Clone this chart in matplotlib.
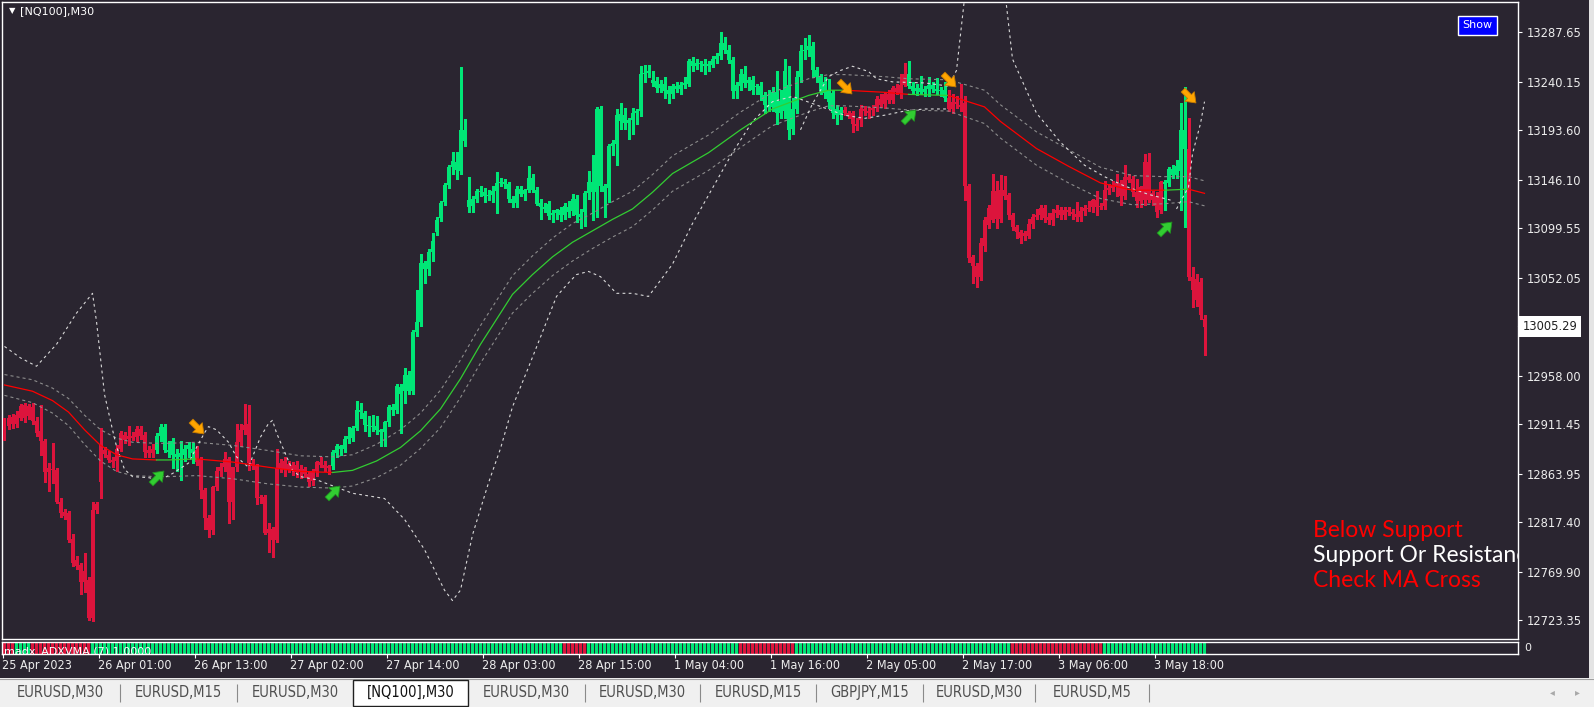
import numpy as np
import matplotlib
matplotlib.use("Agg")
import matplotlib.pyplot as plt
import matplotlib.transforms as mtrans
from matplotlib.path import Path
from matplotlib.patches import Rectangle
from matplotlib import font_manager

# ---------------------------------------------------------------- data
symbol_title = "[NQ100],M30"
indicator_label = "madx_ADXVMA (7) 1.0000"

opens = [
 12913,12910,12912,12912,12917,12917,12929,12928,12914,12905,
 12895,12869,12868,12867,12837,12827,12826,12801,12781,12776,
 12770,12762,12725,12829,12856,12887,12882,12877,12876,12888,
 12901,12897,12900,12899,12907,12901,12887,12884,12887,12900,
 12909,12887,12895,12883,12880,12882,12888,12888,12887,12878,
 12848,12821,12810,12851,12866,12870,12878,12837,12870,12894,
 12906,12912,12874,12871,12840,12841,12807,12811,12800,12874,
 12868,12873,12867,12872,12865,12868,12864,12857,12866,12875,
 12872,12869,12871,12884,12890,12888,12897,12898,12908,12925,
 12922,12911,12910,12910,12906,12904,12913,12928,12925,12947,
 12943,12959,12943,13000,13009,13066,13060,13077,13096,13109,
 13125,13141,13158,13163,13154,13194,13127,13121,13128,13135,
 13134,13130,13131,13135,13143,13144,13142,13128,13124,13137,
 13132,13136,13148,13136,13124,13120,13123,13112,13114,13117,
 13112,13120,13116,13128,13113,13115,13133,13144,13134,13214,
 13140,13138,13178,13180,13209,13201,13201,13203,13210,13212,
 13248,13249,13242,13241,13234,13238,13232,13228,13236,13233,
 13237,13238,13260,13255,13258,13257,13255,13256,13262,13265,
 13277,13271,13261,13231,13236,13248,13239,13242,13235,13236,
 13227,13218,13216,13230,13210,13212,13237,13195,13214,13245,
 13270,13271,13274,13251,13245,13240,13232,13229,13214,13208,
 13213,13210,13210,13200,13203,13214,13212,13213,13215,13224,
 13219,13228,13223,13234,13228,13237,13248,13236,13231,13234,
 13230,13233,13237,13233,13231,13232,13225,13214,13221,13218,
 13220,13140,13072,13063,13053,13082,13103,13107,13135,13108,
 13136,13131,13112,13101,13096,13092,13092,13104,13110,13112,
 13119,13110,13107,13114,13117,13112,13117,13115,13113,13110,
 13116,13119,13120,13127,13120,13121,13136,13138,13140,13143,
 13130,13149,13147,13134,13126,13127,13163,13127,13130,13117,
 13144,13143,13156,13151,13154,13194,13176,13053,13051,13048,
 13012]
highs = [
 12917,12920,12921,12924,12931,12932,12931,12932,12918,12930,
 12897,12874,12893,12869,12840,12830,12828,12806,12785,12778,
 12788,12765,12837,12837,12908,12889,12886,12880,12891,12905,
 12904,12910,12904,12910,12910,12904,12890,12892,12903,12912,
 12912,12895,12898,12888,12895,12891,12894,12893,12890,12880,
 12850,12824,12852,12870,12874,12885,12880,12870,12912,12912,
 12931,12930,12878,12873,12843,12843,12816,12813,12888,12878,
 12880,12876,12875,12876,12872,12870,12866,12868,12876,12880,
 12876,12872,12887,12892,12891,12900,12909,12910,12934,12932,
 12924,12919,12920,12919,12907,12914,12930,12931,12950,12950,
 12965,12962,13002,13040,13075,13068,13080,13095,13110,13126,
 13143,13160,13173,13173,13254,13204,13149,13130,13137,13140,
 13138,13136,13140,13153,13148,13147,13144,13130,13140,13140,
 13137,13159,13152,13139,13128,13124,13126,13117,13118,13120,
 13124,13126,13132,13131,13118,13135,13154,13170,13216,13217,
 13142,13180,13184,13214,13220,13215,13205,13215,13214,13255,
 13256,13256,13250,13245,13242,13245,13236,13238,13240,13240,
 13245,13262,13264,13262,13260,13262,13260,13265,13268,13288,
 13283,13275,13264,13240,13252,13255,13245,13246,13238,13240,
 13230,13232,13235,13250,13232,13262,13255,13225,13250,13275,
 13282,13285,13278,13254,13248,13245,13243,13232,13218,13216,
 13216,13212,13212,13205,13218,13217,13216,13218,13226,13228,
 13230,13232,13236,13238,13248,13258,13260,13240,13238,13246,
 13236,13245,13240,13244,13235,13240,13232,13228,13226,13238,
 13226,13142,13074,13066,13090,13110,13122,13152,13145,13151,
 13150,13133,13114,13103,13098,13097,13108,13113,13118,13122,
 13122,13114,13118,13122,13120,13120,13120,13118,13125,13120,
 13122,13126,13128,13135,13124,13145,13142,13145,13152,13146,
 13160,13152,13150,13147,13140,13171,13172,13135,13134,13145,
 13146,13158,13160,13165,13220,13235,13205,13062,13056,13052,
 13016]
lows = [
 12896,12907,12908,12909,12915,12913,12916,12912,12900,12882,
 12856,12847,12855,12836,12822,12820,12798,12775,12772,12748,
 12750,12723,12722,12826,12840,12880,12875,12870,12866,12886,
 12893,12891,12896,12895,12897,12880,12880,12880,12884,12895,
 12885,12880,12869,12866,12858,12876,12880,12874,12872,12840,
 12811,12803,12806,12848,12862,12866,12816,12820,12866,12890,
 12902,12867,12868,12835,12836,12806,12789,12784,12798,12865,
 12862,12865,12863,12861,12860,12861,12852,12853,12862,12870,
 12866,12864,12868,12880,12882,12885,12893,12895,12906,12917,
 12905,12900,12905,12902,12890,12890,12910,12920,12922,12903,
 12932,12940,12940,12996,13006,13047,13055,13068,13093,13106,
 13122,13138,13152,13147,13152,13178,13115,13115,13125,13130,
 13125,13127,13125,13114,13140,13138,13125,13120,13120,13130,
 13127,13134,13134,13122,13108,13115,13108,13105,13108,13106,
 13108,13110,13112,13105,13100,13102,13128,13107,13110,13135,
 13110,13125,13170,13160,13195,13195,13185,13190,13200,13207,
 13240,13245,13236,13230,13230,13225,13220,13225,13230,13228,
 13234,13236,13250,13252,13250,13248,13250,13254,13258,13262,
 13268,13258,13225,13225,13232,13235,13232,13228,13228,13223,
 13210,13212,13212,13200,13205,13205,13185,13190,13210,13240,
 13262,13265,13245,13240,13228,13225,13215,13205,13200,13204,
 13208,13205,13192,13194,13198,13208,13205,13208,13212,13216,
 13215,13220,13220,13228,13225,13236,13234,13228,13227,13228,
 13226,13226,13230,13228,13226,13222,13212,13210,13215,13212,
 13127,13067,13047,13043,13050,13078,13100,13105,13100,13105,
 13128,13108,13098,13090,13085,13088,13090,13100,13108,13108,
 13105,13104,13103,13110,13108,13108,13112,13108,13106,13106,
 13112,13116,13115,13112,13118,13118,13132,13135,13130,13122,
 13128,13144,13130,13120,13120,13122,13125,13122,13110,13114,
 13117,13140,13148,13148,13117,13101,13050,13024,13025,13012,
 12978]
closes = [
 12900,12917,12918,12920,12929,12930,12919,12914,12903,12895,
 12865,12865,12867,12837,12826,12823,12800,12778,12775,12760,
 12760,12725,12829,12835,12891,12883,12877,12875,12888,12903,
 12896,12900,12898,12907,12900,12885,12884,12888,12900,12909,
 12887,12885,12882,12880,12884,12888,12891,12884,12875,12848,
 12821,12810,12851,12866,12870,12878,12837,12870,12894,12906,
 12911,12874,12871,12840,12841,12807,12811,12800,12869,12868,
 12876,12867,12872,12865,12868,12864,12856,12866,12875,12872,
 12869,12871,12885,12890,12888,12897,12900,12908,12925,12923,
 12911,12910,12909,12906,12904,12913,12928,12925,12948,12940,
 12959,12943,13000,13009,13066,13060,13077,13087,13107,13124,
 13141,13158,13164,13155,13194,13183,13120,13128,13135,13134,
 13130,13131,13135,13143,13144,13142,13128,13124,13137,13132,
 13136,13148,13136,13123,13120,13118,13111,13114,13117,13112,
 13121,13115,13128,13112,13110,13133,13144,13134,13214,13140,
 13134,13178,13181,13208,13202,13208,13203,13210,13212,13248,
 13249,13250,13239,13234,13238,13231,13228,13236,13233,13237,
 13239,13260,13255,13258,13257,13255,13257,13262,13265,13277,
 13271,13261,13231,13237,13248,13239,13242,13232,13236,13227,
 13218,13216,13230,13210,13222,13250,13194,13214,13245,13270,
 13271,13274,13251,13245,13231,13229,13221,13210,13208,13213,
 13210,13208,13200,13198,13214,13212,13210,13215,13224,13218,
 13228,13223,13234,13230,13237,13248,13236,13231,13234,13230,
 13233,13237,13233,13231,13232,13225,13214,13221,13219,13216,
 13140,13071,13063,13053,13085,13107,13119,13135,13108,13136,
 13130,13112,13101,13096,13090,13095,13104,13110,13112,13119,
 13109,13107,13114,13117,13112,13117,13115,13113,13110,13116,
 13119,13118,13127,13120,13121,13136,13138,13140,13143,13130,
 13149,13146,13134,13126,13139,13163,13127,13133,13115,13144,
 13142,13156,13151,13159,13194,13176,13053,13040,13031,13016,
 13005]

time_labels = ["25 Apr 2023", "26 Apr 01:00", "26 Apr 13:00", "27 Apr 02:00",
               "27 Apr 14:00", "28 Apr 03:00", "28 Apr 15:00", "1 May 04:00",
               "1 May 16:00", "2 May 05:00", "2 May 17:00", "3 May 06:00",
               "3 May 18:00"]
time_label_bars = [0, 24, 48, 72, 96, 120, 144, 168, 192, 216, 240, 264, 288]

price_ticks = [13287.65, 13240.15, 13193.60, 13146.10, 13099.55, 13052.05,
               12958.00, 12911.45, 12863.95, 12817.40, 12769.90, 12723.35]
last_price = 13005.29

# trend state of the candles / MA line (first bar of each run)
trend_start_bars = [0, 38, 48, 82, 210, 226, 236, 290, 296]
trend_states = ["dn", "up", "dn", "up", "dn", "up", "dn", "up", "dn"]
# ADXVMA histogram state (first bar of each run)
adx_start_bars = [0, 3, 7, 22, 140, 146, 184, 198, 252, 275]
adx_states = ["dn", "up", "dn", "up", "dn", "up", "dn", "up", "dn", "up"]

# moving average line and its envelope half-width
ma_bars = [0, 7, 12, 16, 20, 24, 28, 32, 38, 41, 48, 57, 66, 74, 82, 87, 93,
           99, 104, 109, 114, 119, 123, 127, 132, 137, 142, 147, 152, 157,
           162, 167, 176, 184, 192, 201, 206, 210, 220, 226, 236, 245, 249,
           258, 266, 274, 282, 290, 296, 300]
ma_values = [12949, 12943, 12934, 12923, 12906, 12891, 12882, 12878, 12877,
             12877, 12878, 12875, 12870, 12866, 12865, 12867, 12876, 12889,
             12905, 12926, 12955, 12988, 13012, 13036, 13055, 13072, 13086,
             13097, 13108, 13118, 13134, 13152, 13172, 13194, 13214, 13227,
             13232, 13232, 13230, 13228, 13227, 13216, 13202, 13176, 13159,
             13143, 13136, 13136, 13137, 13133]
ma_band = [10, 11, 12, 13, 14, 15, 16, 16, 16, 16, 16, 16, 16, 15, 15, 15, 16,
           17, 17, 18, 18, 18, 18, 18, 18, 18, 18, 17, 17, 17, 17, 17, 17, 17,
           16, 16, 15, 15, 15, 15, 15, 16, 16, 16, 16, 15, 14, 13, 12, 12]

# wide white dashed bands (traced)
band_a_bars = [0, 4, 8, 13, 18, 22, 23, 24, 25, 27, 28, 30, 32, 36, 39, 42, 46,
               48, 50, 51, 53, 56, 58, 61, 62, 64, 66, 67, 68, 70, 72, 74, 78,
               87, 95, 100, 105, 110, 112, 114, 117, 121, 124, 127, 131, 134,
               138, 141, 143, 146, 149, 153, 157, 161, 167, 172, 177, 182, 187,
               192, 197, 200, 205, 210, 215, 220, 225, 230, 236]
band_a_values = [12986, 12975, 12967, 12988, 13018, 13037, 13010, 12975, 12940,
                 12906, 12890, 12868, 12861, 12860, 12858, 12864, 12874, 12889,
                 12903, 12909, 12906, 12894, 12880, 12870, 12880, 12899, 12912,
                 12915, 12903, 12885, 12867, 12861, 12858, 12845, 12840, 12820,
                 12791, 12752, 12742, 12752, 12805, 12855, 12888, 12928, 12966,
                 12995, 13034, 13047, 13055, 13058, 13053, 13037, 13037, 13034,
                 13065, 13104, 13138, 13172, 13202, 13221, 13226, 13222, 13215,
                 13208, 13205, 13208, 13212, 13214, 13214]
band_b_bars = [199, 202, 206, 209, 212, 216, 218, 222, 230, 236, 238, 240, 244,
               250, 252, 258, 264, 270, 275, 280, 286, 292]
band_b_values = [13194, 13219, 13245, 13251, 13255, 13250, 13243, 13240, 13239,
                 13236, 13251, 13320, 13400, 13330, 13262, 13210, 13182, 13160,
                 13149, 13140, 13132, 13126]
band_c_bars = [293, 296, 297, 299, 300]
band_c_values = [13118, 13139, 13171, 13200, 13221]

buy_bars = [38, 82, 226, 290]
buy_prices = [12861, 12846, 13207, 13100]
sell_bars = [48, 210, 236, 296]
sell_prices = [12909, 13235, 13242, 13226]

status_lines = ["Below Support", "Support Or Resistance", "Check MA Cross"]
status_colors = ["#FF0000", "#FFFFFF", "#FF0000"]

tab_names = ["EURUSD,M30", "EURUSD,M15", "EURUSD,M30", "[NQ100],M30",
             "EURUSD,M30", "EURUSD,M30", "EURUSD,M15", "GBPJPY,M15",
             "EURUSD,M30", "EURUSD,M5"]
active_tab = 3

# ---------------------------------------------------------------- style
W, H, DPI = 1594, 707, 100
BG = "#2A2530"
GREEN = "#00E676"
RED = "#DC143C"
MA_UP = "#32CD32"
MA_DN = "#FF0000"
TXT = "#EDEDED"
plt.rcParams["lines.scale_dashes"] = False
plt.rcParams["font.family"] = ["DejaVu Sans"]

avail = {f.name for f in font_manager.fontManager.ttflist}
if "Liberation Sans Narrow" in avail:
    NARROW, NSTRETCH = "Liberation Sans Narrow", "normal"
else:
    NARROW, NSTRETCH = "DejaVu Sans", "condensed"
STATUS_FONT = "Lato" if "Lato" in avail else "DejaVu Sans"

fig = plt.figure(figsize=(W / DPI, H / DPI), dpi=DPI)
fig.patch.set_facecolor(BG)


def axes_px(x0, y0, x1, y1):
    return fig.add_axes([x0 / W, 1 - y1 / H, (x1 - x0) / W, (y1 - y0) / H])


def runs_to_bars(starts, states, n):
    out = []
    for k, s in enumerate(starts):
        e = starts[k + 1] if k + 1 < len(starts) else n
        out += [states[k]] * (e - s)
    return out


n = len(closes)
idx = np.arange(n)
o = np.array(opens, float)
h = np.array(highs, float)
l = np.array(lows, float)
c = np.array(closes, float)
trend = runs_to_bars(trend_start_bars, trend_states, n)
adx = runs_to_bars(adx_start_bars, adx_states, n)

X_LEFT, X_RIGHT = -0.625, 378.375
Y_LOW, Y_HIGH = 12705.1, 13316.7

# ---------------------------------------------------------------- main chart
ax = axes_px(2, 2, 1518, 639)
ax.set_facecolor(BG)
ax.set_xlim(X_LEFT, X_RIGHT)
ax.set_ylim(Y_LOW, Y_HIGH)
for sp in ax.spines.values():
    sp.set_color("white")
    sp.set_linewidth(1.0)
ax.set_xticks([])
ax.yaxis.tick_right()
ax.set_yticks(price_ticks)
ax.set_yticklabels([f"{p:.2f}" for p in price_ticks])
ax.tick_params(axis="y", direction="out", length=3, width=0.8, color="white",
               labelcolor=TXT, labelsize=8.3, pad=3)

cols = [GREEN if s == "up" else RED for s in trend]
ax.vlines(idx, l, h, colors=cols, linewidth=0.75, antialiased=False, zorder=3)
body_lo = np.minimum(o, c)
body_h = np.maximum(np.abs(c - o), 1.0)
ax.bar(idx, body_h, bottom=body_lo, width=0.75, color=cols, linewidth=0,
       antialiased=False, zorder=4)

mb = np.array(ma_bars)
mv = np.array(ma_values, float)
bw = np.array(ma_band, float)
ax.plot(mb, mv + bw, color="#8C8C8C", lw=0.8, dashes=(2.2, 2.2), zorder=5)
ax.plot(mb, mv - bw, color="#8C8C8C", lw=0.8, dashes=(2.2, 2.2), zorder=5)
for k, s in enumerate(trend_start_bars):
    e = trend_start_bars[k + 1] if k + 1 < len(trend_start_bars) else n - 1
    m = (mb >= s) & (mb <= e)
    ax.plot(mb[m], mv[m], color=MA_UP if trend_states[k] == "up" else MA_DN,
            lw=0.9, zorder=6)

for bb, bv in ((band_a_bars, band_a_values), (band_b_bars, band_b_values),
               (band_c_bars, band_c_values)):
    ax.plot(bb, bv, color="#D8D8D8", lw=0.8, dashes=(2.0, 2.4), zorder=5)


def arrow_marker(angle_deg):
    verts = np.array([(-1, -0.3), (0.0, -0.3), (0.0, -0.75), (1, 0),
                      (0.0, 0.75), (0.0, 0.3), (-1, 0.3), (-1, -0.3)])
    a = np.deg2rad(angle_deg)
    R = np.array([[np.cos(a), -np.sin(a)], [np.sin(a), np.cos(a)]])
    codes = [Path.MOVETO] + [Path.LINETO] * 6 + [Path.CLOSEPOLY]
    return Path(verts @ R.T, codes)


ax.plot(buy_bars, buy_prices, ls="none", marker=arrow_marker(45), ms=12,
        mfc="#32CD32", mec="#1F8F1F", mew=0.6, zorder=7)
ax.plot(sell_bars, sell_prices, ls="none", marker=arrow_marker(-45), ms=12,
        mfc="#FFA500", mec="#C57A00", mew=0.6, zorder=7)

# current price tag
tr = mtrans.blended_transform_factory(ax.transAxes, ax.transData)
ax.plot([1.0, 1.0 + 3 / 1516], [last_price, last_price], transform=tr,
        color="white", lw=0.8, clip_on=False)
ax.text(1.0 + 5 / 1516, last_price, f"{last_price:.2f}", transform=tr,
        ha="left", va="center", fontsize=8.3, color="#202020", clip_on=False,
        bbox=dict(boxstyle="square,pad=0.32", fc="white", ec="none"))

# status text block (clipped at the chart edge)
for k, (t, col) in enumerate(zip(status_lines, status_colors)):
    ax.text(1313 / W, 1 - (537 + 24.8 * k) / H, t, transform=fig.transFigure,
            color=col, fontsize=16.5, family=STATUS_FONT, va="baseline",
            ha="left", clip_on=True, zorder=8)

# title + triangle
fig.text(9 / W, 1 - 11 / H, "\u25BC", color="white", fontsize=6,
         va="center", ha="left")
fig.text(20 / W, 1 - 11.5 / H, symbol_title, color="white", fontsize=8,
         va="center", ha="left")

# Show button
fig.add_artist(Rectangle((1458 / W, 1 - 35 / H), 39 / W, 19 / H,
                         transform=fig.transFigure, fc="#0000FF", ec="white",
                         lw=1.0))
fig.text(1477.5 / W, 1 - 25.5 / H, "Show", color="white", fontsize=8,
         ha="center", va="center")

# ---------------------------------------------------------------- ADXVMA strip
axh = axes_px(2, 642, 1518, 654)
axh.set_facecolor(BG)
axh.set_xlim(X_LEFT, X_RIGHT)
axh.set_ylim(0, 1)
axh.set_xticks([])
axh.set_yticks([])
for sp in axh.spines.values():
    sp.set_color("white")
    sp.set_linewidth(1.0)
adx_cols = [GREEN if s == "up" else RED for s in adx]
axh.bar(idx, 1.0, bottom=0, width=0.75, color=adx_cols, linewidth=0,
        antialiased=False, zorder=2)
axh.text(0.0, 0.62, indicator_label, color="white", fontsize=8, va="top",
         ha="left", zorder=3, clip_on=True)
fig.text(1524 / W, 1 - 648 / H, "0", color=TXT, fontsize=8, va="center",
         ha="left")

# ---------------------------------------------------------------- time axis
axt = axes_px(2, 654, 1518, 678)
axt.set_xlim(X_LEFT, X_RIGHT)
axt.set_ylim(24, 0)
axt.axis("off")
tb = np.array(time_label_bars) - 0.375
axt.vlines(tb, 0, 4, color="white", lw=0.8)
for b, lab in zip(tb, time_labels):
    axt.text(b - 0.3, 11.5, lab, color=TXT, fontsize=9, family=NARROW,
             stretch=NSTRETCH, va="center", ha="left")

# ---------------------------------------------------------------- tab bar
axb = axes_px(0, 678, 1594, 707)
axb.set_facecolor("#F0F0F0")
axb.set_xlim(0, W)
axb.set_ylim(707, 678)
axb.set_xticks([])
axb.set_yticks([])
for sp in axb.spines.values():
    sp.set_visible(False)
axb.axhline(678.6, color="#A0A0A0", lw=0.8)
tab_edges = [0, 120, 237, 353, 468, 585, 700, 816, 923, 1035, 1149]
for k, name in enumerate(tab_names):
    x0, x1 = tab_edges[k], tab_edges[k + 1]
    if k == active_tab:
        axb.add_patch(Rectangle((x0, 679.5), x1 - x0, 26, fc="white",
                                ec="#202020", lw=1.0, zorder=2))
        axb.text((x0 + x1) / 2, 692.5, name, color="#101010", fontsize=10.5,
                 family=NARROW, stretch=NSTRETCH, ha="center", va="center",
                 zorder=3)
    else:
        axb.text((x0 + x1) / 2, 692.5, name, color="#505050", fontsize=10.5,
                 family=NARROW, stretch=NSTRETCH, ha="center", va="center")
        if k + 1 != active_tab:
            axb.vlines(x1, 684, 702, color="#8A8A8A", lw=0.8)
axb.text(1552, 692, "\u25C2", color="#A8A8A8", fontsize=7, ha="center",
         va="center")
axb.text(1577, 692, "\u25B8", color="#A8A8A8", fontsize=7, ha="center",
         va="center")

# right scrollbar strip
fig.add_artist(Rectangle((1589 / W, 1 - 678 / H), 5 / W, 678 / H,
                         transform=fig.transFigure, fc="#E4E4E4", ec="none"))

fig.savefig("out.png", dpi=DPI, facecolor=BG)
